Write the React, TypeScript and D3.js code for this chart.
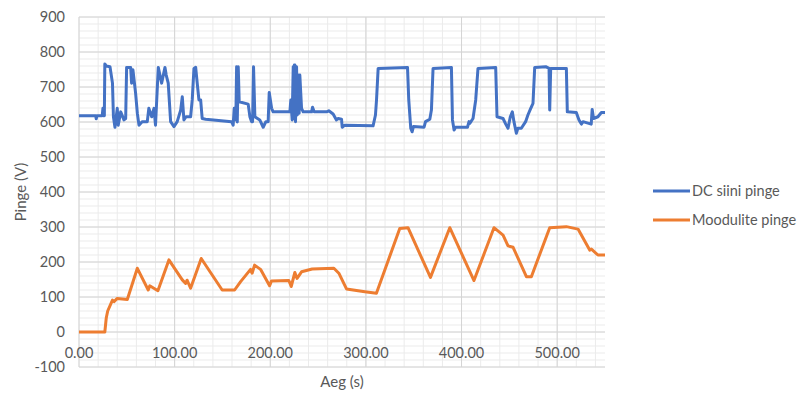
import { useEffect, useRef } from "react";
import * as d3 from "d3";

// DC bus voltage (blue)
const dcTime = [
  0, 17.5, 18, 18.8, 24.3, 25, 25.6, 26.5, 27, 28.5, 32.4, 35, 36, 37.6, 40, 41, 43.6, 47, 48.8, 49.8, 54, 55, 56.4,
  59.2, 61, 62.7, 66, 71.4, 73, 76, 78.4, 80, 82.9, 86.4, 89.9, 91.2, 93.3, 95.8, 99.3, 102.7, 106.3, 108, 109.7, 112,
  116.7, 118.4, 120.2, 122, 123.6, 125.4, 127.2, 128.8, 132.4, 159.5, 161.2, 162.3, 164, 164.8, 165.5, 166.5, 167.5,
  176.9, 178.7, 180.4, 181.5, 182.5, 183.9, 189, 192.6, 195.4, 197.8, 198.9, 201.4, 203, 220.5, 221.5, 222.9, 224,
  224.6, 225.2, 225.7, 226.4, 227.5, 228.2, 229.2, 230.2, 230.9, 232.7, 234.4, 243.2, 244.2, 245.9, 258.8, 261.2,
  265.7, 269.2, 271, 274.5, 275.2, 277.9, 307.5, 310, 311.1, 312.8, 343.5, 344.8, 346.9, 348.3, 349.7, 360.8, 362.3,
  366.8, 368.5, 370.2, 389.4, 390.5, 392.2, 393.6, 406.2, 407.8, 408.6, 412, 414.8, 417.2, 435.7, 437.1, 443.4, 446.2,
  448.6, 451, 453.1, 454.8, 457.3, 458.9, 462.5, 467, 469.4, 471.9, 474.7, 476.5, 488, 491.5, 492.2, 493.2, 509.6,
  510.6, 520, 522.8, 525.3, 527, 535.6, 536.6, 538, 542.6, 546.2, 550,
];
const dcVoltage = [
  618, 618, 609, 618, 618, 639, 618, 618, 766, 760, 758, 711, 615, 585, 639, 591, 629, 606, 610, 756, 756, 711, 749,
  682, 625, 591, 601, 601, 639, 615, 639, 591, 756, 711, 756, 734, 711, 601, 587, 601, 634, 672, 606, 615, 615, 663,
  753, 756, 711, 663, 663, 610, 608, 601, 591, 639, 606, 758, 600, 758, 658, 651, 615, 601, 601, 758, 615, 606, 585,
  601, 601, 684, 639, 629, 629, 663, 606, 758, 610, 763, 763, 601, 758, 620, 734, 625, 734, 639, 629, 629, 642, 629,
  629, 632, 623, 606, 610, 608, 585, 591, 589, 620, 663, 753, 756, 663, 582, 572, 587, 585, 601, 608, 634, 753, 756,
  606, 577, 585, 585, 601, 596, 610, 663, 753, 756, 615, 610, 594, 582, 615, 629, 601, 568, 582, 582, 601, 620, 636,
  653, 756, 758, 753, 634, 753, 753, 629, 627, 606, 594, 601, 594, 636, 610, 615, 627, 627,
];

// modulated voltage (orange)
const modTime = [
  0, 27, 28.5, 30, 35, 36.6, 40, 50.5, 61, 72.4, 74, 82.5, 94, 108, 111.5, 113, 116.7, 127.8, 149.7, 162.7, 169, 179.4,
  181, 183.6, 189.8, 199.3, 201.3, 219.4, 221.9, 225.7, 228, 232.7, 243.8, 266.5, 271.7, 279.7, 298.9, 311, 335.4, 344,
  367.5, 387.7, 413, 433.9, 443.4, 448.6, 453.9, 467.8, 473, 492.2, 509.6, 521.8, 534, 535.8, 542.6, 550,
];
const modVoltage = [
  0, 0, 40, 60, 91, 87, 96, 93, 182, 120, 132, 118, 206, 149, 139, 148, 125, 210, 120, 120, 144, 179, 168, 191, 179,
  132, 146, 147, 130, 170, 153, 172, 180, 182, 168, 123, 115, 110.5, 296, 298, 156, 298, 147, 298, 277, 246, 242, 158,
  158, 298, 301, 294, 234, 237, 220, 220,
];

const xTicks = [0, 100, 200, 300, 400, 500];
const yTicks = [-100, 0, 100, 200, 300, 400, 500, 600, 700, 800, 900];
const seriesNames = ["DC siini pinge", "Moodulite pinge"];
const seriesColors = ["#4472C4", "#ED7D31"];

const FONT = "Lato, 'Open Sans', sans-serif";

const App = () => {
  const svgRef = useRef(null);

  useEffect(() => {
    if (!svgRef.current) return;
    const root = d3.select(svgRef.current);
    root.selectAll("*").remove();

    const margin = { left: 79, top: 17, right: 195, bottom: 32 };
    const width = 800 - margin.left - margin.right;
    const height = 399 - margin.top - margin.bottom;

    const x = d3.scaleLinear().domain([0, 550]).range([0, width]);
    const y = d3.scaleLinear().domain([-100, 900]).range([height, 0]);

    const g = root.append("g").attr("transform", `translate(${margin.left},${margin.top})`);

    // minor grid
    const minorX = d3.range(0, 551, 20);
    const minorY = d3.range(-100, 901, 20);
    g.selectAll(".mx")
      .data(minorX)
      .enter()
      .append("line")
      .attr("x1", (d) => x(d))
      .attr("x2", (d) => x(d))
      .attr("y1", 0)
      .attr("y2", height)
      .attr("stroke", "#ebebeb")
      .attr("stroke-width", 1);
    g.selectAll(".my")
      .data(minorY)
      .enter()
      .append("line")
      .attr("x1", 0)
      .attr("x2", width)
      .attr("y1", (d) => y(d))
      .attr("y2", (d) => y(d))
      .attr("stroke", "#ebebeb")
      .attr("stroke-width", 1);

    // major grid
    g.selectAll(".gx")
      .data(xTicks)
      .enter()
      .append("line")
      .attr("x1", (d) => x(d))
      .attr("x2", (d) => x(d))
      .attr("y1", 0)
      .attr("y2", height)
      .attr("stroke", "#d4d4d4");
    g.selectAll(".gy")
      .data(yTicks)
      .enter()
      .append("line")
      .attr("x1", 0)
      .attr("x2", width)
      .attr("y1", (d) => y(d))
      .attr("y2", (d) => y(d))
      .attr("stroke", "#d4d4d4");

    // axis labels
    g.selectAll(".yl")
      .data(yTicks)
      .enter()
      .append("text")
      .attr("x", -14)
      .attr("y", (d) => y(d))
      .attr("dy", "0.35em")
      .attr("text-anchor", "end")
      .attr("font-family", FONT)
      .attr("font-size", 14.5)
      .attr("fill", "#595959")
      .text((d) => d);
    g.selectAll(".xl")
      .data(xTicks)
      .enter()
      .append("text")
      .attr("x", (d) => x(d))
      .attr("y", y(0) + 26)
      .attr("text-anchor", "middle")
      .attr("font-family", FONT)
      .attr("font-size", 14.5)
      .attr("fill", "#595959")
      .text((d) => d3.format(".2f")(d));

    // lines
    const line = d3
      .line<[number, number]>()
      .x((d) => x(d[0]))
      .y((d) => y(d[1]));
    const dcData = dcTime.map((t, i) => [t, dcVoltage[i]] as [number, number]);
    const modData = modTime.map((t, i) => [t, modVoltage[i]] as [number, number]);
    [dcData, modData].forEach((d, i) => {
      g.append("path")
        .datum(d)
        .attr("fill", "none")
        .attr("stroke", seriesColors[i])
        .attr("stroke-width", 3)
        .attr("stroke-linejoin", "round")
        .attr("d", line);
    });

    // titles
    root
      .append("text")
      .attr("transform", `translate(26,${margin.top + height / 2}) rotate(-90)`)
      .attr("text-anchor", "middle")
      .attr("font-family", FONT)
      .attr("font-size", 15)
      .attr("fill", "#595959")
      .text("Pinge (V)");
    root
      .append("text")
      .attr("x", 342)
      .attr("y", 387)
      .attr("text-anchor", "middle")
      .attr("font-family", FONT)
      .attr("font-size", 15)
      .attr("fill", "#595959")
      .text("Aeg (s)");

    // legend
    const legend = root.append("g").attr("transform", "translate(653,191)");
    seriesNames.forEach((name, i) => {
      legend
        .append("line")
        .attr("x1", 0)
        .attr("x2", 37)
        .attr("y1", i * 29)
        .attr("y2", i * 29)
        .attr("stroke", seriesColors[i])
        .attr("stroke-width", 3);
      legend
        .append("text")
        .attr("x", 39)
        .attr("y", i * 29)
        .attr("dy", "0.35em")
        .attr("font-family", FONT)
        .attr("font-size", 14.5)
        .attr("fill", "#595959")
        .text(name);
    });
  }, []);

  return (
    <svg
      ref={svgRef}
      width={800}
      height={399}
      style={{ position: "absolute", left: 0, top: 0, background: "#fff" }}
    />
  );
};

export default App;
